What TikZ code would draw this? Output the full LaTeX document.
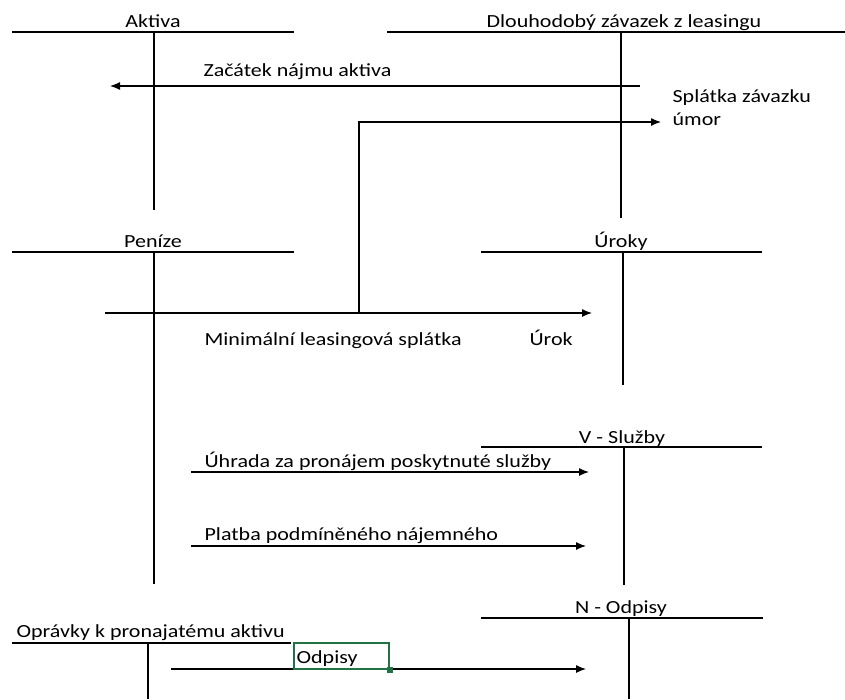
\documentclass[tikz,border=0pt]{standalone}
\usepackage{fontspec}
\setmainfont[FakeStretch=1.19]{Carlito}
\usetikzlibrary{arrows.meta,calc}
\definecolor{xlgreen}{RGB}{33,115,70}
\begin{document}
\begin{tikzpicture}[x=1pt,y=-1pt,line width=1.2pt,
  lbl/.style={inner sep=0pt,font=\fontsize{18.5}{22}\selectfont,text=black},
  ttl/.style={lbl,anchor=base},
  txt/.style={lbl,anchor=base west},
  arr/.style={-{Latex[length=10pt,width=8pt]}}]
\useasboundingbox (0,0) rectangle (845,699);
% ---- T accounts ----
% Aktiva
\coordinate (a1) at (12,32); \coordinate (a2) at (294,32);
\coordinate (a3) at (154,32); \coordinate (a4) at (154,210);
\draw (a1) -- (a2); \draw (a3) -- (a4);
\node[ttl] (aktiva) at (153,27) {Aktiva};
% Dlouhodoby zavazek
\coordinate (d1) at (387,32); \coordinate (d2) at (845,32);
\coordinate (d3) at (621,32); \coordinate (d4) at (621,218);
\draw (d1) -- (d2); \draw (d3) -- (d4);
\node[ttl] (dlouh) at (624,27) {Dlouhodobý závazek z leasingu};
% Penize
\coordinate (p1) at (12,252); \coordinate (p2) at (294,252);
\coordinate (p3) at (154,252); \coordinate (p4) at (154,584);
\draw (p1) -- (p2); \draw (p3) -- (p4);
\node[ttl] (penize) at (153,247) {Peníze};
% Uroky
\coordinate (u1) at (481,252); \coordinate (u2) at (762,252);
\coordinate (u3) at (623,252); \coordinate (u4) at (623,385);
\draw (u1) -- (u2); \draw (u3) -- (u4);
\node[ttl] (uroky) at (621,247) {Úroky};
% V - Sluzby
\coordinate (s1) at (481,447); \coordinate (s2) at (762,447);
\coordinate (s3) at (624,447); \coordinate (s4) at (624,585);
\draw (s1) -- (s2); \draw (s3) -- (s4);
\node[ttl] (sluzby) at (622,443) {V - Služby};
% N - Odpisy
\coordinate (n1) at (481,618); \coordinate (n2) at (763,618);
\coordinate (n3) at (629,618); \coordinate (n4) at (629,699);
\draw (n1) -- (n2); \draw (n3) -- (n4);
\node[ttl] (nodpisy) at (621,613) {N - Odpisy};
% Opravky
\coordinate (o1) at (12,643); \coordinate (o2) at (291,643);
\coordinate (o3) at (148,643); \coordinate (o4) at (148,699);
\draw (o1) -- (o2); \draw (o3) -- (o4);
\node[txt] (opravky) at (16,637) {Oprávky k pronajatému aktivu};
% ---- flows ----
\coordinate (z1) at (640,86); \coordinate (z2) at (110,86);
\draw[arr] (z1) -- (z2);
\node[txt] (zacatek) at (203,76) {Začátek nájmu aktiva};
\coordinate (m1) at (105,313); \coordinate (m2) at (592,313);
\draw[arr] (m1) -- (m2);
\node[txt] (minim) at (204,345) {Minimální leasingová splátka};
\node[txt] (urok) at (529,345) {Úrok};
\coordinate (sp1) at (359,313); \coordinate (sp2) at (359,122); \coordinate (sp3) at (661,122);
\draw[arr] (sp1) -- (sp2) -- (sp3);
\node[txt] (splatka) at (672,102) {Splátka závazku};
\node[txt] (umor) at (672,125) {úmor};
\coordinate (h1) at (191,472); \coordinate (h2) at (589,472);
\draw[arr] (h1) -- (h2);
\node[txt] (uhrada) at (204,467) {Úhrada za pronájem poskytnuté služby};
\coordinate (pl1) at (191,546); \coordinate (pl2) at (586,546);
\draw[arr] (pl1) -- (pl2);
\node[txt] (platba) at (204,540) {Platba podmíněného nájemného};
\coordinate (od1) at (171,669); \coordinate (od2) at (586,669);
\draw[arr] (od1) -- (od2);
\node[draw=xlgreen,line width=1.8pt,minimum width=95pt,minimum height=26pt,inner sep=0pt,anchor=north west] (box) at (293,642) {};
\node[txt] (odpisy) at (296,663) {Odpisy};
\fill[xlgreen] ($(box.south east)+(-3,-3)$) rectangle ++(6,6);
\end{tikzpicture}
\end{document}
